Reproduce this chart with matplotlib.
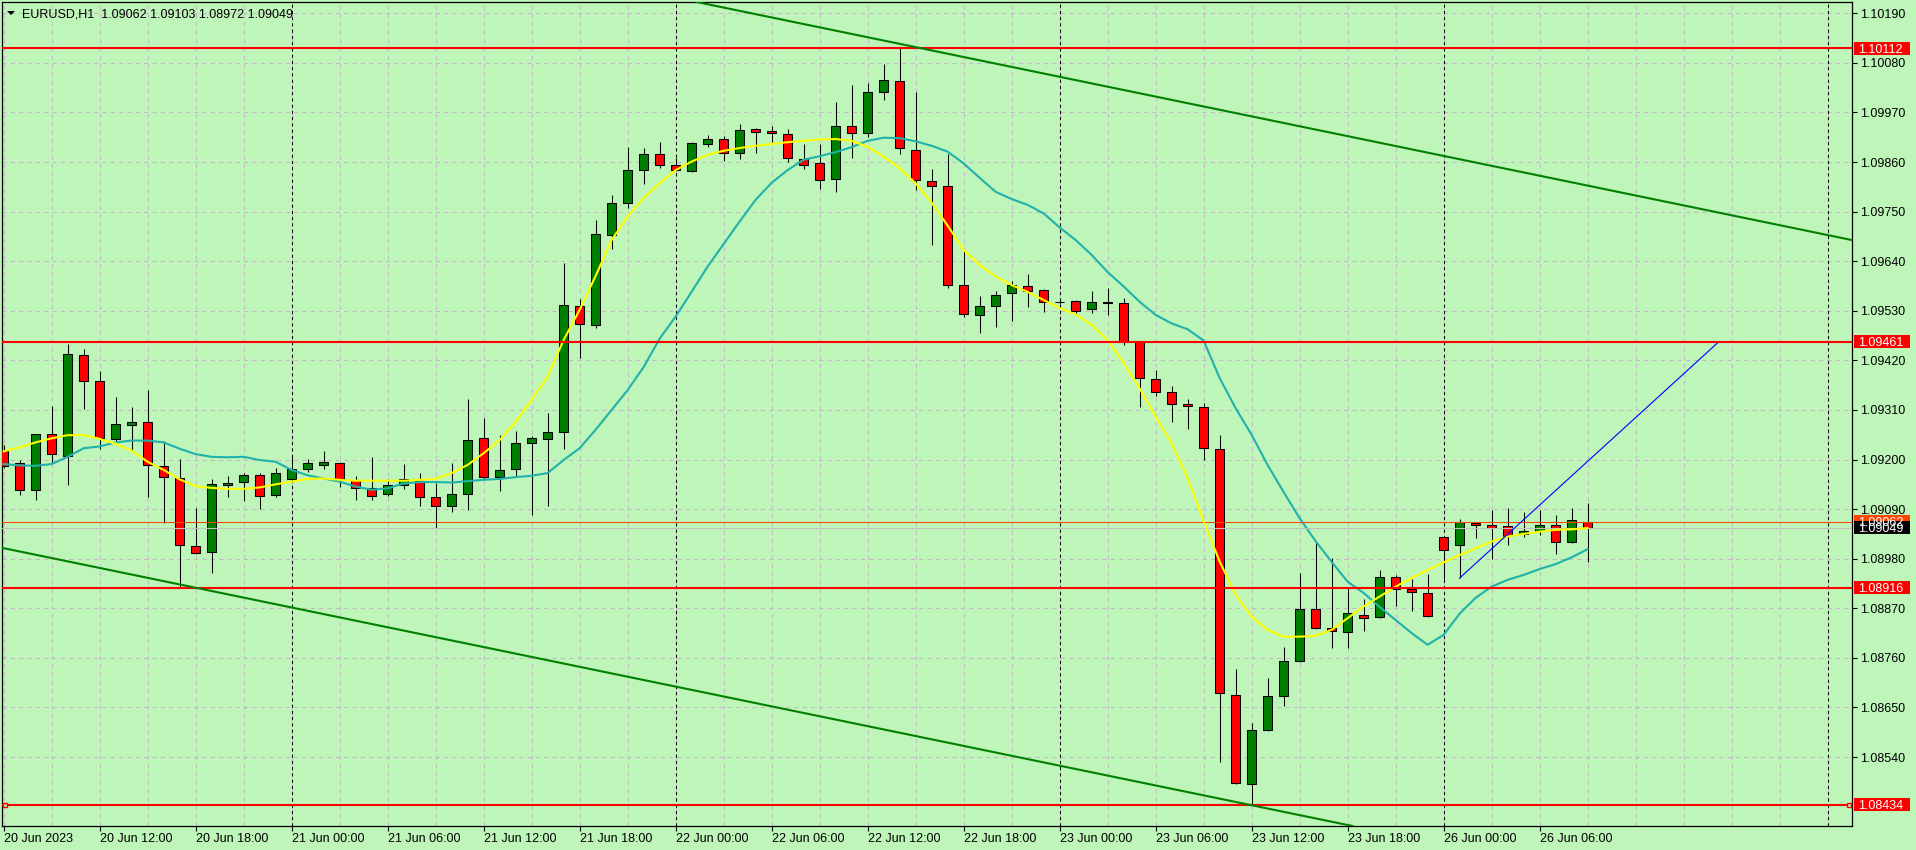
import matplotlib
matplotlib.use("Agg")
import matplotlib.pyplot as plt
from matplotlib.patches import Rectangle, Polygon
from matplotlib.transforms import IdentityTransform

plt.rcParams['font.family'] = ['Liberation Sans', 'DejaVu Sans']

W, H, DPI = 1916, 850, 100

# ---------------- data (EURUSD H1, bars indexed from 20 Jun 06:00) ----------------
opens = [1.09218, 1.09192, 1.09132, 1.09256, 1.09207, 1.09431, 1.09374, 1.09245, 1.09276, 1.09283,
         1.09185, 1.09158, 1.09008, 1.08994, 1.09143, 1.09150, 1.09166, 1.09121, 1.09156, 1.09178,
         1.09187, 1.09192, 1.09154, 1.09136, 1.09123, 1.09143, 1.09152, 1.09116, 1.09096, 1.09123,
         1.09247, 1.09161, 1.09178, 1.09236, 1.09245, 1.09261, 1.09540, 1.09498, 1.09698, 1.09769,
         1.09842, 1.09877, 1.09853, 1.09840, 1.09899, 1.09910, 1.09879, 1.09933, 1.09928, 1.09922,
         1.09866, 1.09857, 1.09822, 1.09939, 1.09924, 1.10015, 1.10039, 1.09886, 1.09817, 1.09806,
         1.09587, 1.09520, 1.09540, 1.09569, 1.09584, 1.09576, 1.09550, 1.09551, 1.09533, 1.09549,
         1.09547, 1.09460, 1.09378, 1.09349, 1.09323, 1.09316, 1.09223, 1.08677, 1.08480, 1.08600,
         1.08675, 1.08753, 1.08868, 1.08826, 1.08817, 1.08855, 1.08850, 1.08939, 1.08912, 1.08903,
         1.09028, 1.09010, 1.09059, 1.09054, 1.09052, 1.09034, 1.09041, 1.09054, 1.09017, 1.09062]
highs = [1.09233, 1.09199, 1.09256, 1.09319, 1.09456, 1.09445, 1.09397, 1.09339, 1.09317, 1.09354,
         1.09241, 1.09201, 1.09093, 1.09157, 1.09164, 1.09171, 1.09171, 1.09182, 1.09206, 1.09201,
         1.09218, 1.09194, 1.09164, 1.09206, 1.09156, 1.09190, 1.09170, 1.09147, 1.09192, 1.09334,
         1.09292, 1.09254, 1.09263, 1.09253, 1.09303, 1.09637, 1.09556, 1.09731, 1.09787, 1.09893,
         1.09891, 1.09905, 1.09868, 1.09905, 1.09919, 1.09917, 1.09944, 1.09935, 1.09939, 1.09933,
         1.09899, 1.09899, 1.09993, 1.10031, 1.10035, 1.10078, 1.10115, 1.10015, 1.09844, 1.09877,
         1.09663, 1.09563, 1.09573, 1.09596, 1.09611, 1.09578, 1.09553, 1.09553, 1.09573, 1.09580,
         1.09558, 1.09462, 1.09399, 1.09363, 1.09334, 1.09325, 1.09254, 1.08735, 1.08616, 1.08716,
         1.08784, 1.08948, 1.09019, 1.08981, 1.08915, 1.08890, 1.08954, 1.08943, 1.08934, 1.08946,
         1.09030, 1.09068, 1.09061, 1.09088, 1.09092, 1.09083, 1.09088, 1.09076, 1.09092, 1.09103]
lows = [1.09182, 1.09122, 1.09111, 1.09193, 1.09144, 1.09311, 1.09223, 1.09241, 1.09220, 1.09116,
        1.09059, 1.08918, 1.08990, 1.08949, 1.09116, 1.09108, 1.09091, 1.09116, 1.09154, 1.09173,
        1.09178, 1.09140, 1.09110, 1.09110, 1.09118, 1.09134, 1.09096, 1.09049, 1.09084, 1.09087,
        1.09156, 1.09130, 1.09162, 1.09077, 1.09097, 1.09224, 1.09426, 1.09491, 1.09666, 1.09757,
        1.09811, 1.09846, 1.09840, 1.09838, 1.09893, 1.09862, 1.09866, 1.09879, 1.09904, 1.09859,
        1.09844, 1.09801, 1.09793, 1.09868, 1.09915, 1.09997, 1.09877, 1.09797, 1.09675, 1.09580,
        1.09516, 1.09480, 1.09493, 1.09507, 1.09538, 1.09527, 1.09546, 1.09524, 1.09526, 1.09521,
        1.09455, 1.09317, 1.09342, 1.09284, 1.09267, 1.09198, 1.08530, 1.08480, 1.08434, 1.08598,
        1.08654, 1.08750, 1.08824, 1.08781, 1.08781, 1.08820, 1.08848, 1.08876, 1.08865, 1.08850,
        1.08932, 1.08937, 1.09025, 1.08980, 1.09010, 1.09028, 1.09032, 1.08990, 1.09014, 1.08972]
closes = [1.09186, 1.09132, 1.09256, 1.09212, 1.09434, 1.09374, 1.09247, 1.09278, 1.09283, 1.09187,
          1.09161, 1.09010, 1.08992, 1.09145, 1.09148, 1.09166, 1.09119, 1.09170, 1.09178, 1.09192,
          1.09194, 1.09156, 1.09136, 1.09119, 1.09143, 1.09156, 1.09116, 1.09096, 1.09123, 1.09243,
          1.09161, 1.09176, 1.09236, 1.09247, 1.09261, 1.09543, 1.09500, 1.09700, 1.09769, 1.09842,
          1.09877, 1.09853, 1.09842, 1.09902, 1.09910, 1.09879, 1.09930, 1.09926, 1.09924, 1.09868,
          1.09853, 1.09820, 1.09939, 1.09924, 1.10015, 1.10041, 1.09891, 1.09820, 1.09806, 1.09587,
          1.09522, 1.09540, 1.09564, 1.09587, 1.09573, 1.09549, 1.09549, 1.09529, 1.09549, 1.09547,
          1.09461, 1.09380, 1.09349, 1.09323, 1.09318, 1.09225, 1.08682, 1.08482, 1.08600, 1.08675,
          1.08753, 1.08868, 1.08826, 1.08819, 1.08859, 1.08848, 1.08939, 1.08912, 1.08906, 1.08852,
          1.08999, 1.09061, 1.09054, 1.09048, 1.09030, 1.09041, 1.09054, 1.09017, 1.09065, 1.09049]

ma_fast = [1.09218, 1.09227, 1.09238, 1.09247, 1.09254, 1.09254, 1.09246, 1.09235, 1.09220, 1.09195,
           1.09177, 1.09156, 1.09141, 1.09137, 1.09135, 1.09135, 1.09138, 1.09145, 1.09151, 1.09157,
           1.09158, 1.09155, 1.09153, 1.09153, 1.09153, 1.09153, 1.09155, 1.09157, 1.09170, 1.09188,
           1.09214, 1.09243, 1.09284, 1.09332, 1.09384, 1.09465, 1.09532, 1.09607, 1.09687, 1.09739,
           1.09780, 1.09813, 1.09842, 1.09861, 1.09876, 1.09885, 1.09891, 1.09896, 1.09900, 1.09904,
           1.09907, 1.09910, 1.09911, 1.09907, 1.09894, 1.09872, 1.09846, 1.09813, 1.09770, 1.09719,
           1.09665, 1.09632, 1.09606, 1.09587, 1.09572, 1.09554, 1.09536, 1.09522, 1.09499, 1.09465,
           1.09414, 1.09358, 1.09295, 1.09236, 1.09159, 1.09064, 1.08974, 1.08900, 1.08852, 1.08822,
           1.08807, 1.08807, 1.08809, 1.08822, 1.08848, 1.08874, 1.08896, 1.08918, 1.08937, 1.08955,
           1.08972, 1.08988, 1.09003, 1.09018, 1.09029, 1.09035, 1.09040, 1.09044, 1.09045, 1.09048]
ma_slow = [1.09190, 1.09187, 1.09186, 1.09190, 1.09206, 1.09225, 1.09229, 1.09238, 1.09242, 1.09242,
           1.09238, 1.09224, 1.09212, 1.09206, 1.09205, 1.09206, 1.09199, 1.09195, 1.09177, 1.09165,
           1.09158, 1.09151, 1.09140, 1.09133, 1.09136, 1.09147, 1.09150, 1.09150, 1.09149, 1.09152,
           1.09155, 1.09157, 1.09161, 1.09164, 1.09170, 1.09199, 1.09225, 1.09266, 1.09310, 1.09354,
           1.09405, 1.09468, 1.09517, 1.09572, 1.09628, 1.09678, 1.09728, 1.09776, 1.09814, 1.09842,
           1.09865, 1.09873, 1.09882, 1.09893, 1.09907, 1.09914, 1.09913, 1.09906, 1.09896, 1.09883,
           1.09857, 1.09825, 1.09794, 1.09778, 1.09765, 1.09746, 1.09715, 1.09687, 1.09654, 1.09616,
           1.09584, 1.09550, 1.09521, 1.09502, 1.09489, 1.09464, 1.09381, 1.09314, 1.09255, 1.09188,
           1.09128, 1.09070, 1.09019, 1.08973, 1.08929, 1.08904, 1.08873, 1.08844, 1.08815, 1.08789,
           1.08811, 1.08858, 1.08893, 1.08918, 1.08933, 1.08944, 1.08957, 1.08968, 1.08983, 1.09001]

x_tick_bars = [0, 6, 12, 18, 24, 30, 36, 42, 48, 54, 60, 66, 72, 78, 84, 90, 96]
x_tick_labels = ["20 Jun 2023", "20 Jun 12:00", "20 Jun 18:00", "21 Jun 00:00", "21 Jun 06:00",
                 "21 Jun 12:00", "21 Jun 18:00", "22 Jun 00:00", "22 Jun 06:00", "22 Jun 12:00",
                 "22 Jun 18:00", "23 Jun 00:00", "23 Jun 06:00", "23 Jun 12:00", "23 Jun 18:00",
                 "26 Jun 00:00", "26 Jun 06:00"]
day_separators = [18, 42, 66, 90, 114]
y_ticks = [1.10190, 1.10080, 1.09970, 1.09860, 1.09750, 1.09640, 1.09530, 1.09420,
           1.09310, 1.09200, 1.09090, 1.08980, 1.08870, 1.08760, 1.08650, 1.08540]
levels = [1.10112, 1.09461, 1.08916, 1.08434]
bid, ask = 1.09049, 1.09062
channel_upper = [(54.8, 1.10131), (115.5, 1.09687)]
channel_lower = [(-0.225, 1.09005), (84.03, 1.08389)]
blue_trend = [(91, 1.08937), (107.1, 1.09458)]
title = "EURUSD,H1  1.09062 1.09103 1.08972 1.09049"

# ---------------- figure ----------------
BG = '#BEF5B9'
fig = plt.figure(figsize=(W / DPI, H / DPI), dpi=DPI, facecolor=BG)
L, R, T, B = 2, 1852, 2, 826
ax = fig.add_axes([L / W, (H - B) / H, (R - L) / W, (B - T) / H])
ax.set_facecolor(BG)
ax.set_xlim(-0.1, 115.525)
ax.set_ylim(1.08387, 1.10215)
for s in ax.spines.values():
    s.set_color('black')
    s.set_linewidth(0.9)

# grid
gridc = '#C4B8C6'
for yv in y_ticks:
    ax.axhline(yv, color=gridc, lw=0.75, ls=(0, (4, 4)), zorder=0.5)
for xv in range(0, 117, 3):
    ax.axvline(xv, color=gridc, lw=0.75, ls=(0, (4, 4)), zorder=0.5)
for xv in day_separators:
    ax.axvline(xv, color='black', lw=0.75, ls=(0, (3, 3)), zorder=0.6)

# candles
xs = list(range(len(opens)))
ax.vlines(xs, lows, highs, color='black', lw=0.75, zorder=2)
bott = [min(o, c) for o, c in zip(opens, closes)]
hts = [max(abs(c - o), 0.000004) for o, c in zip(opens, closes)]
cols = ['#008000' if c > o else '#FF0000' for o, c in zip(opens, closes)]
ax.bar(xs, hts, bottom=bott, width=0.58, color=cols, edgecolor='black', linewidth=0.75, zorder=3)

# moving averages
ax.plot(xs, ma_slow, color='#20B2AA', lw=1.5, zorder=4)
ax.plot(xs, ma_fast, color='#FFFF00', lw=1.5, zorder=4.5)

# ask / bid lines
ax.axhline(ask, color='#FF4500', lw=0.75, zorder=4)
ax.axhline(bid, color='#C0C0C0', lw=0.75, zorder=4)

# horizontal levels
for lv in levels:
    ax.axhline(lv, color='#FF0000', lw=1.5, zorder=5)
ax.plot([0.0015, 0.9985], [levels[-1], levels[-1]], ls='none', marker='s', ms=3.5, mfc=BG,
        mec='#FF0000', mew=1.0, transform=ax.get_yaxis_transform(), clip_on=False, zorder=6)

# channel and trend lines
ax.axline(channel_upper[0], channel_upper[1], color='#008000', lw=1.5, zorder=5)
ax.axline(channel_lower[0], channel_lower[1], color='#008000', lw=1.5, zorder=5)
ax.plot([p[0] for p in blue_trend], [p[1] for p in blue_trend], color='#0000FF', lw=0.8, zorder=5)

# ticks
ax.yaxis.tick_right()
ax.set_yticks(y_ticks)
ax.set_yticklabels([f"{v:.5f}" for v in y_ticks])
ax.set_xticks(x_tick_bars)
ax.set_xticklabels(x_tick_labels)
for lab in ax.get_xticklabels():
    lab.set_horizontalalignment('left')
ax.tick_params(axis='y', direction='out', length=3.5, width=0.8, pad=2.0, labelsize=9, colors='black')
ax.tick_params(axis='x', direction='out', length=3.5, width=0.8, pad=1.5, labelsize=9, colors='black')

# title
tri = Polygon([[7, H - 11], [15, H - 11], [11, H - 15]], closed=True, fc='black', ec='none',
              transform=IdentityTransform())
fig.add_artist(tri)
fig.text(21.5 / W, (H - 17.3) / H, title, fontsize=9, color='black', va='baseline', ha='left')

# price tags on the right axis
def tag(price, fc, tc):
    yd = ax.transData.transform((0, price))[1]
    fig.add_artist(Rectangle((1854, yd - 6.5), 56, 13, fc=fc, ec='none',
                             transform=IdentityTransform(), zorder=10))
    fig.text(1858.5 / W, (yd - 4.5) / H, f"{price:.5f}", fontsize=9, color=tc,
             va='baseline', ha='left', zorder=11)

for lv in levels:
    tag(lv, '#FF0000', 'white')
tag(ask, '#FF4500', 'white')
tag(bid, 'black', 'white')

fig.savefig('out.png', dpi=DPI, facecolor=BG)
